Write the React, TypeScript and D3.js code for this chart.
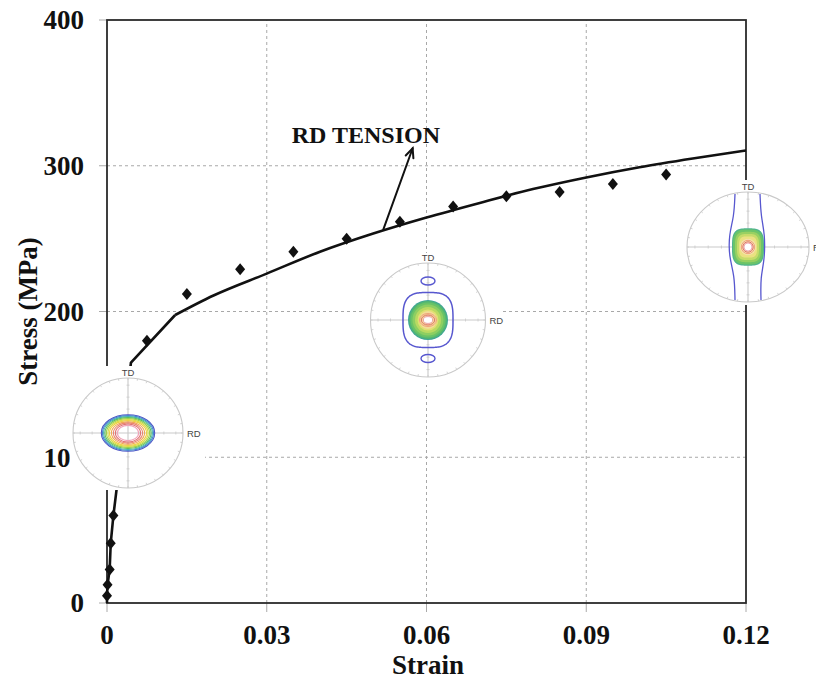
import React from "react";
import * as d3 from "d3";

const WIDTH = 816;
const HEIGHT = 682;

// Axis ticks
const strainTicks = [0, 0.03, 0.06, 0.09, 0.12];
const strainTickLabels = ["0", "0.03", "0.06", "0.09", "0.12"];
const stressTicks = [0, 100, 200, 300, 400];
const stressTickLabels = ["0", "100", "200", "300", "400"];
const gridStrain = [0.03, 0.06, 0.09];
const gridStress = [100, 200, 300];

// Predicted response: elastic loading up to yield, then the hardening branch
const elasticStrain = [0, 0, 0.0001, 0.0005, 0.0007, 0.0012, 0.0018, 0.0045, 0.0128];
const elasticStress = [0, 5, 12.5, 23, 41, 60, 78, 165, 197.6];
const hardeningStrain = [0.0128, 0.02, 0.03, 0.04, 0.05, 0.06, 0.07, 0.08, 0.09, 0.1, 0.11, 0.12];
const hardeningStress = [197.6, 211, 226, 241, 253.5, 264.5, 274.5, 284, 292, 299, 305, 310.5];

// Measured RD tension points
const testStrain = [0, 0.0001, 0.0005, 0.0007, 0.0012, 0.0075, 0.015, 0.025, 0.035, 0.045, 0.055, 0.065, 0.075, 0.085, 0.095, 0.105];
const testStress = [5, 12.5, 23, 41, 60, 180, 212, 229, 241, 250, 261.5, 272, 279, 282, 287.5, 294];

// Annotation
const annotationText = "RD TENSION";
const annotationLabel = [0.0347, 315.4];
const annotationArrow = [[0.0519, 256.4], [0.0574, 312]];

const SERIF = "'Liberation Serif', 'Times New Roman', serif";
const SANS = "'Liberation Sans', Arial, sans-serif";

const x = d3.scaleLinear().domain([0, 0.12]).range([107, 746]);
const y = d3.scaleLinear().domain([0, 400]).range([603, 20]);

const lineGen = d3
  .line<[number, number]>()
  .x((d) => x(d[0]))
  .y((d) => y(d[1]));

const zip = (a: number[], b: number[]) => a.map((v, i) => [v, b[i]] as [number, number]);

function superellipse(hw: number, hh: number, n: number) {
  const pts = d3.range(0, 2 * Math.PI, Math.PI / 72).map((t) => {
    const c = Math.cos(t);
    const s = Math.sin(t);
    return [
      hw * Math.sign(c) * Math.pow(Math.abs(c), 2 / n),
      hh * Math.sign(s) * Math.pow(Math.abs(s), 2 / n),
    ] as [number, number];
  });
  return d3.line().curve(d3.curveLinearClosed)(pts) as string;
}

const GRID_GREY = "#c9c9c9";

// Pole figure frame: white backdrop, projection circle, TD/RD axes
function PoleFrame({
  rx,
  ry,
  box,
  children,
}: {
  rx: number;
  ry: number;
  box: [number, number, number, number];
  children?: React.ReactNode;
}) {
  const axisTicks = d3.range(-4, 5).filter((k) => k !== 0);
  const rimTicks = d3.range(0, 360, 10);
  return (
    <g>
      <rect x={box[0]} y={box[1]} width={box[2]} height={box[3]} fill="#fff" />
      <ellipse rx={rx} ry={ry} fill="none" stroke={GRID_GREY} strokeWidth={1.1} />
      {rimTicks.map((a) => {
        const t = (a * Math.PI) / 180;
        const c = Math.cos(t);
        const s = Math.sin(t);
        return (
          <line
            key={a}
            x1={rx * c}
            y1={ry * s}
            x2={(rx - 2) * c}
            y2={(ry - 2) * s}
            stroke={GRID_GREY}
            strokeWidth={0.8}
          />
        );
      })}
      <line x1={-rx} x2={rx} y1={0} y2={0} stroke={GRID_GREY} strokeWidth={1.1} />
      <line x1={0} x2={0} y1={-ry} y2={ry} stroke={GRID_GREY} strokeWidth={1.1} />
      {axisTicks.map((k) => (
        <g key={k}>
          <line x1={(k * rx) / 4.6} x2={(k * rx) / 4.6} y1={-1.5} y2={1.5} stroke={GRID_GREY} strokeWidth={0.8} />
          <line y1={(k * ry) / 4.6} y2={(k * ry) / 4.6} x1={-1.5} x2={1.5} stroke={GRID_GREY} strokeWidth={0.8} />
        </g>
      ))}
      {children}
      <text
        x={0}
        y={-ry - 2}
        textAnchor="middle"
        fontFamily={SANS}
        fontSize={9.5}
        fill="#444"
      >
        TD
      </text>
      <text x={rx + 4} y={4} fontFamily={SANS} fontSize={9.5} fill="#444">
        RD
      </text>
    </g>
  );
}

// Initial texture: concentric elongated contours
const earlyRings: [number, number, string][] = [
  [26.7, 18.3, "#4d55c6"],
  [25.6, 17.4, "#4a86cf"],
  [24.4, 16.4, "#45b0b2"],
  [23.1, 15.4, "#5cbf5e"],
  [21.6, 14.4, "#9ccf50"],
  [20.1, 13.4, "#d6df4a"],
  [18.6, 12.4, "#efcf45"],
  [16.6, 11.1, "#f0aa55"],
  [14.6, 10.1, "#ea8570"],
  [12.6, 9.0, "#e07272"],
  [10.6, 7.6, "#f0a2b8"],
];

function EarlyTexture() {
  return (
    <g>
      {earlyRings.map(([rx, ry, c], i) => (
        <ellipse key={i} rx={rx} ry={ry} fill="none" stroke={c} strokeWidth={1.1} />
      ))}
    </g>
  );
}

const midLayers: [number, string][] = [
  [20, "#3fa596"],
  [19, "#52b673"],
  [17.5, "#69c366"],
  [15.5, "#8dce62"],
  [13, "#b9da62"],
  [10.5, "#e0e072"],
  [9, "#f3dc98"],
];

function MidTexture() {
  return (
    <g>
      <path d={superellipse(25, 27.5, 3.2)} fill="none" stroke="#5757cf" strokeWidth={1.5} />
      <ellipse cx={0} cy={-39} rx={7} ry={4} fill="none" stroke="#5757cf" strokeWidth={1.4} />
      <ellipse cx={0} cy={38.5} rx={7} ry={4} fill="none" stroke="#5757cf" strokeWidth={1.4} />
      {midLayers.map(([r, c], i) => (
        <circle key={i} r={r} fill={c} />
      ))}
      <ellipse rx={8.5} ry={6.5} fill="none" stroke="#f0a27a" strokeWidth={1} />
      <ellipse rx={6.7} ry={5} fill="none" stroke="#e07070" strokeWidth={1} />
      <ellipse rx={4.6} ry={3.4} fill="#fff" stroke="#ec98a8" strokeWidth={0.9} />
    </g>
  );
}

const lateLayers: [number, number, string][] = [
  [16, 18.7, "#4fb48e"],
  [15, 17.5, "#6cc468"],
  [13, 15.2, "#98d062"],
  [11, 13, "#c6dc6a"],
  [9, 10.6, "#ebe182"],
];

const lateBandLeft: [number, number][] = [
  [-13, -53],
  [-14, -30],
  [-19, -13],
  [-19, 10],
  [-13.5, 28],
  [-13, 53],
];
const lateBandRight: [number, number][] = [
  [12, -53],
  [13, -30],
  [17, -13],
  [16.5, 14],
  [12.5, 30],
  [13, 53],
];

function LateTexture() {
  const band = d3.line().curve(d3.curveBasis);
  return (
    <g>
      <path d={band(lateBandLeft) as string} fill="none" stroke="#5757cf" strokeWidth={1.3} />
      <path d={band(lateBandRight) as string} fill="none" stroke="#5757cf" strokeWidth={1.3} />
      {lateLayers.map(([hw, hh, c], i) => (
        <path key={i} d={superellipse(hw, hh, 3.4)} fill={c} />
      ))}
      <circle r={8} fill="#f5e6b0" />
      <circle r={6.7} fill="none" stroke="#f0a27a" strokeWidth={1} />
      <circle r={5.2} fill="none" stroke="#e07070" strokeWidth={1} />
      <circle r={4} fill="#fff" stroke="#ec98a8" strokeWidth={0.8} />
    </g>
  );
}

function Arrow() {
  const [p0, p1] = annotationArrow;
  const x0 = x(p0[0]);
  const y0 = y(p0[1]);
  const x1 = x(p1[0]);
  const y1 = y(p1[1]);
  const ang = Math.atan2(y1 - y0, x1 - x0);
  const L = 10;
  const spread = 0.42;
  const w1 = [x1 - L * Math.cos(ang - spread), y1 - L * Math.sin(ang - spread)];
  const w2 = [x1 - L * Math.cos(ang + spread), y1 - L * Math.sin(ang + spread)];
  return (
    <g stroke="#111" strokeWidth={2} fill="none" strokeLinecap="round">
      <line x1={x0} y1={y0} x2={x1} y2={y1} />
      <path d={`M${w1[0]},${w1[1]} L${x1},${y1} L${w2[0]},${w2[1]}`} />
    </g>
  );
}

export default function App() {
  const diamond = "M0,-6 L5,0 L0,6 L-5,0 Z";
  const elastic = zip(elasticStrain, elasticStress);
  const hardening = zip(hardeningStrain, hardeningStress);
  const hardeningPath = d3
    .line<[number, number]>()
    .x((d) => x(d[0]))
    .y((d) => y(d[1]))
    .curve(d3.curveMonotoneX)(hardening) as string;

  return (
    <svg
      width={WIDTH}
      height={HEIGHT}
      style={{ position: "absolute", left: 0, top: 0, background: "#fff" }}
    >
      {/* grid */}
      {gridStrain.map((s) => (
        <line
          key={"gx" + s}
          x1={x(s)}
          x2={x(s)}
          y1={y(0)}
          y2={y(400)}
          stroke="#a8a8a8"
          strokeWidth={1}
          strokeDasharray="3,3"
        />
      ))}
      {gridStress.map((s) => (
        <line
          key={"gy" + s}
          x1={x(0)}
          x2={x(0.12)}
          y1={y(s)}
          y2={y(s)}
          stroke="#a8a8a8"
          strokeWidth={1}
          strokeDasharray="3,3"
        />
      ))}

      {/* tick marks */}
      {strainTicks.map((s) => (
        <line key={"tx" + s} x1={x(s)} x2={x(s)} y1={y(0)} y2={y(0) + 9} stroke="#aaa" strokeWidth={1} />
      ))}
      {stressTicks.map((s) => (
        <line key={"ty" + s} x1={x(0) - 8} x2={x(0)} y1={y(s)} y2={y(s)} stroke="#aaa" strokeWidth={1} />
      ))}

      {/* plot frame */}
      <rect
        x={x(0)}
        y={y(400)}
        width={x(0.12) - x(0)}
        height={y(0) - y(400)}
        fill="none"
        stroke="#2b2b2b"
        strokeWidth={1.8}
      />

      {/* tick labels */}
      {strainTicks.map((s, i) => (
        <text
          key={"lx" + s}
          x={x(s)}
          y={644}
          textAnchor="middle"
          fontFamily={SERIF}
          fontWeight="bold"
          fontSize={27}
          fill="#111"
        >
          {strainTickLabels[i]}
        </text>
      ))}
      {stressTicks.map((s, i) => (
        <text
          key={"ly" + s}
          x={84}
          y={y(s)}
          dy="0.35em"
          textAnchor="end"
          fontFamily={SERIF}
          fontWeight="bold"
          fontSize={27}
          fill="#111"
        >
          {stressTickLabels[i]}
        </text>
      ))}

      {/* axis titles */}
      <text
        x={428}
        y={674}
        textAnchor="middle"
        fontFamily={SERIF}
        fontWeight="bold"
        fontSize={27}
        fill="#111"
      >
        Strain
      </text>
      <text
        transform={`translate(37,${(y(0) + y(400)) / 2}) rotate(-90)`}
        textAnchor="middle"
        fontFamily={SERIF}
        fontWeight="bold"
        fontSize={27}
        fill="#111"
      >
        Stress (MPa)
      </text>

      {/* predicted curve */}
      <path d={lineGen(elastic) as string} fill="none" stroke="#111" strokeWidth={2.6} strokeLinejoin="round" />
      <path d={hardeningPath} fill="none" stroke="#111" strokeWidth={2.6} />

      {/* measured points */}
      {testStrain.map((s, i) => (
        <path key={"m" + i} d={diamond} transform={`translate(${x(s)},${y(testStress[i])})`} fill="#111" />
      ))}

      {/* annotation */}
      <Arrow />
      <text
        x={x(annotationLabel[0])}
        y={y(annotationLabel[1])}
        fontFamily={SERIF}
        fontWeight="bold"
        fontSize={24}
        fill="#111"
      >
        {annotationText}
      </text>

      {/* pole figures along the loading path */}
      <g transform="translate(128,433)">
        <PoleFrame rx={55} ry={55} box={[-58, -67, 135, 124]}>
          <EarlyTexture />
        </PoleFrame>
      </g>
      <g transform="translate(428,320)">
        <PoleFrame rx={57.5} ry={57} box={[-65, -67, 140, 132]}>
          <MidTexture />
        </PoleFrame>
      </g>
      <g transform="translate(748,247)">
        <PoleFrame rx={61} ry={55} box={[-65, -67, 140, 125]}>
          <LateTexture />
        </PoleFrame>
      </g>
    </svg>
  );
}
